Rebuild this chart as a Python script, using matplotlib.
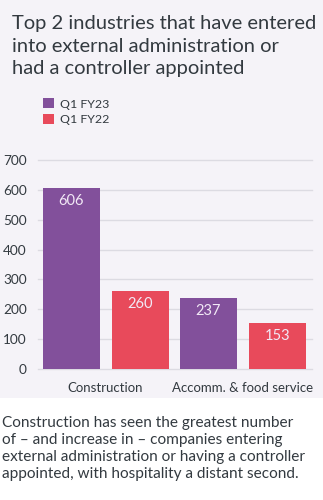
import matplotlib
matplotlib.use("Agg")
import matplotlib.pyplot as plt
from matplotlib.patches import Rectangle
import numpy as np

categories = ["Construction", "Accomm. & food service"]
series_names = ["Q1 FY23", "Q1 FY22"]
fy23 = [606, 237]
fy22 = [260, 153]
yticks = [0, 100, 200, 300, 400, 500, 600, 700]

title = "Top 2 industries that have entered\ninto external administration or\nhad a controller appointed"
caption = ("Construction has seen the greatest number\n"
           "of \u2013 and increase in \u2013 companies entering\n"
           "external administration or having a controller\n"
           "appointed, with hospitality a distant second.")

purple = "#82509b"
red = "#e84a5b"
bg = "#f5f3f8"
txt = "#333a40"
grid = "#dcdbe2"

plt.rcParams['font.family'] = ['Lato', 'DejaVu Sans']

fig = plt.figure(figsize=(3.23, 5.0), dpi=100)
fig.patch.set_facecolor(bg)
fig.patches.append(Rectangle((0, 0), 1, 0.204, transform=fig.transFigure,
                             facecolor="white", edgecolor="none", zorder=0))

ax = fig.add_axes([38/323, 1-369/500, (312-38)/323, (369-160)/500])
ax.set_facecolor("none")
x = np.arange(len(categories))
w = 0.416
off = 0.252
b1 = ax.bar(x - off, fy23, w, color=purple, label=series_names[0], zorder=3)
b2 = ax.bar(x + off, fy22, w, color=red, label=series_names[1], zorder=3)
for bars in (b1, b2):
    for r in bars:
        h = r.get_height()
        ax.text(r.get_x() + r.get_width()/2, h - 20, f"{int(h)}",
                ha="center", va="top", color="#f2e9f6", fontsize=10.5, zorder=4)

ax.set_xlim(-0.493, 1.507)
ax.set_ylim(0, 700)
ax.set_yticks(yticks)
ax.set_yticklabels([str(t) for t in yticks], fontsize=9.8, color=txt)
ax.set_xticks(x)
ax.set_xticklabels(categories, fontsize=9.5, color=txt)
ax.tick_params(axis="both", length=0)
ax.tick_params(axis="y", pad=8)
ax.tick_params(axis="x", pad=9)
for s in ax.spines.values():
    s.set_visible(False)
for t in yticks:
    ax.axhline(t, color=grid, lw=1.0, zorder=1, clip_on=False)

fig.text(12/323, 1-15/500, title, ha="left", va="top", fontsize=14.5,
         color=txt, linespacing=1.4)

leg = fig.legend(handles=[b1, b2], labels=series_names, loc="upper left",
                 bbox_to_anchor=(32/323, 1-87/500), frameon=False, fontsize=8.9,
                 handlelength=0.9, handleheight=0.9, handletextpad=0.5,
                 labelspacing=0.35, labelcolor=txt)

fig.text(2/323, 1-416/500, caption, ha="left", va="top", fontsize=11.1,
         color=txt, linespacing=1.28)

fig.savefig("out.png", dpi=100, facecolor=fig.get_facecolor())
